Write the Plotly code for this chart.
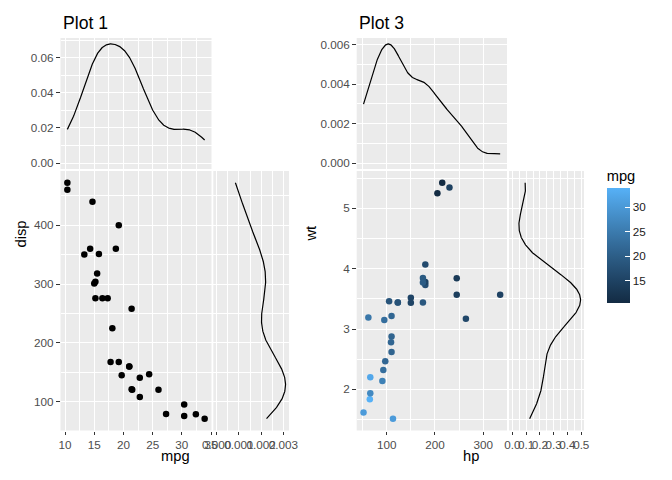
import numpy as np
import plotly.graph_objects as go

# mtcars data
mpg = [21.0, 21.0, 22.8, 21.4, 18.7, 18.1, 14.3, 24.4, 22.8, 19.2, 17.8, 16.4, 17.3, 15.2, 10.4, 10.4,
       14.7, 32.4, 30.4, 33.9, 21.5, 15.5, 15.2, 13.3, 19.2, 27.3, 26.0, 30.4, 15.8, 19.7, 15.0, 21.4]
disp = [160, 160, 108, 258, 360, 225, 360, 146.7, 140.8, 167.6, 167.6, 275.8, 275.8, 275.8, 472, 460,
        440, 78.7, 75.7, 71.1, 120.1, 318, 304, 350, 400, 79, 120.3, 95.1, 351, 145, 301, 121]
hp = [110, 110, 93, 110, 175, 105, 245, 62, 95, 123, 123, 180, 180, 180, 205, 215,
      230, 66, 52, 65, 97, 150, 150, 245, 175, 66, 91, 113, 264, 175, 335, 109]
wt = [2.620, 2.875, 2.320, 3.215, 3.440, 3.460, 3.570, 3.190, 3.150, 3.440, 3.440, 4.070, 3.730, 3.780,
      5.250, 5.424, 5.345, 2.200, 1.615, 1.835, 2.465, 3.520, 3.435, 3.840, 3.845, 1.935, 2.140, 1.513,
      3.170, 3.770, 3.570, 2.780]

titles = ["Plot 1", "Plot 3"]
mpg_ticks = [10, 15, 20, 25, 30, 35]
disp_ticks = [100, 200, 300, 400]
hp_ticks = [100, 200, 300]
wt_ticks = [2, 3, 4, 5]
dens1_top_ticks = [0, 0.02, 0.04, 0.06]
dens1_right_ticks = [0, 0.001, 0.002, 0.003]
dens3_top_ticks = [0, 0.002, 0.004, 0.006]
dens3_right_ticks = [0, 0.1, 0.2, 0.3, 0.4, 0.5]
cbar_ticks = [15, 20, 25, 30]


def kde(v, n=512):
    v = np.asarray(v, float)
    sd = v.std(ddof=1)
    q75, q25 = np.percentile(v, [75, 25])
    lo = min(sd, (q75 - q25) / 1.34)
    bw = 0.9 * lo * len(v) ** -0.2
    g = np.linspace(v.min(), v.max(), n)
    d = np.exp(-0.5 * ((g[:, None] - v[None, :]) / bw) ** 2).sum(1) / (len(v) * bw * np.sqrt(2 * np.pi))
    return g, d


def expand(lo, hi, f=0.05):
    r = hi - lo
    return [lo - f * r, hi + f * r]


# colour scale (ggplot default gradient, Lab interpolation)
def hex2rgb(h):
    return [int(h[i:i + 2], 16) / 255 for i in (1, 3, 5)]


M = np.array([[0.4124, 0.3576, 0.1805], [0.2126, 0.7152, 0.0722], [0.0193, 0.1192, 0.9505]])
WN = np.array([0.95047, 1.0, 1.08883])


def rgb2lab(c):
    c = np.array([x / 12.92 if x <= 0.04045 else ((x + 0.055) / 1.055) ** 2.4 for x in c])
    xyz = M @ c / WN
    f = np.where(xyz > 0.008856, np.cbrt(xyz), 7.787 * xyz + 16 / 116)
    return np.array([116 * f[1] - 16, 500 * (f[0] - f[1]), 200 * (f[1] - f[2])])


def lab2rgb(lab):
    fy = (lab[0] + 16) / 116
    fx = fy + lab[1] / 500
    fz = fy - lab[2] / 200
    f = np.array([fx, fy, fz])
    xyz = np.where(f ** 3 > 0.008856, f ** 3, (f - 16 / 116) / 7.787) * WN
    c = np.linalg.solve(M, xyz)
    c = np.array([12.92 * x if x <= 0.0031308 else 1.055 * x ** (1 / 2.4) - 0.055 for x in c])
    c = np.clip(c, 0, 1)
    return "rgb(%d,%d,%d)" % tuple(np.round(c * 255))


L0, L1 = rgb2lab(hex2rgb("#132B43")), rgb2lab(hex2rgb("#56B1F7"))
cscale = [[t, lab2rgb(L0 + (L1 - L0) * t)] for t in np.linspace(0, 1, 11)]

W, H = 672, 480


def px(x):
    return x / W


def py(y):
    return 1 - y / H


TICKFONT = dict(family="Liberation Sans, Arial", size=11.7, color="#4D4D4D")
GRID = dict(showgrid=True, gridcolor="white", gridwidth=1.3, zeroline=False, showline=False, automargin=False)


def minor_of(ticks):
    d = ticks[1] - ticks[0]
    return dict(tickmode="linear", tick0=ticks[0] - d / 2, dtick=d, showgrid=True, gridcolor="white",
                gridwidth=0.6, ticks="")


def axis(domain, rng, ticks, fmt=None, labels=True, anchor=None):
    a = dict(domain=domain, range=rng, tickmode="array", tickvals=ticks, **GRID,
             minor=minor_of(ticks), tickfont=TICKFONT, tickangle=0)
    if fmt:
        a["tickformat"] = fmt
    if labels:
        a.update(ticks="outside", ticklen=3.7, tickwidth=1.07, tickcolor="#333333", showticklabels=True)
    else:
        a.update(ticks="", showticklabels=False)
    if anchor:
        a["anchor"] = anchor
    return a


fig = go.Figure()

# ---- Plot 1 ----
mx, md = kde(mpg)
dx, dd = kde(disp)
fig.add_trace(go.Scatter(x=mpg, y=disp, mode="markers", marker=dict(color="black", size=6.5),
                         xaxis="x", yaxis="y", showlegend=False))
fig.add_trace(go.Scatter(x=mx, y=md, mode="lines", line=dict(color="black", width=1.2),
                         xaxis="x2", yaxis="y2", showlegend=False))
fig.add_trace(go.Scatter(x=dd, y=dx, mode="lines", line=dict(color="black", width=1.2),
                         xaxis="x3", yaxis="y3", showlegend=False))

# ---- Plot 3 ----
hx, hd = kde(hp)
wx, wd = kde(wt)
fig.add_trace(go.Scatter(x=hp, y=wt, mode="markers",
                         marker=dict(color=mpg, colorscale=cscale, cmin=min(mpg), cmax=max(mpg), size=6.5,
                                     colorbar=dict(xref="container", yref="container",
                                                   x=px(606.7), xanchor="left", xpad=0, y=py(303), yanchor="bottom",
                                                   len=136, lenmode="pixels", thickness=22.6, thicknessmode="pixels",
                                                   ypad=0, outlinewidth=0, tickmode="array", tickvals=cbar_ticks,
                                                   ticks="inside", ticklen=4.5, tickcolor="white", tickwidth=1,
                                                   tickfont=dict(family="Liberation Sans, Arial", size=11.7,
                                                                 color="#1A1A1A"),
                                                   title=dict(text="mpg", side="top",
                                                              font=dict(family="Liberation Sans, Arial", size=14.7,
                                                                        color="black")))),
                         xaxis="x4", yaxis="y4", showlegend=False))
fig.add_trace(go.Scatter(x=hx, y=hd, mode="lines", line=dict(color="black", width=1.2),
                         xaxis="x5", yaxis="y5", showlegend=False))
fig.add_trace(go.Scatter(x=wd, y=wx, mode="lines", line=dict(color="black", width=1.2),
                         xaxis="x6", yaxis="y6", showlegend=False))

main_y = [py(430.5), py(171)]
top_y = [py(169), py(38)]

r_mpg = expand(min(mpg), max(mpg))
r_disp = expand(min(disp), max(disp))
r_hp = expand(min(hp), max(hp))
r_wt = expand(min(wt), max(wt))
r_md = expand(0, md.max())
r_dd = expand(0, dd.max())
r_hd = expand(0, hd.max())
r_wd = expand(0, wd.max())

fig.update_layout(
    width=W, height=H, margin=dict(l=0, r=0, t=0, b=0, autoexpand=False),
    paper_bgcolor="white", plot_bgcolor="#EBEBEB",
    font=dict(family="Liberation Sans, Arial"),
    xaxis=axis([px(60.5), px(211.5)], r_mpg, mpg_ticks, anchor="y"),
    yaxis=axis(main_y, r_disp, disp_ticks, anchor="x"),
    xaxis2=axis([px(60.5), px(211.5)], r_mpg, mpg_ticks, labels=False, anchor="y2"),
    yaxis2=axis(top_y, r_md, dens1_top_ticks, fmt=".2f", anchor="x2"),
    xaxis3=axis([px(213.3), px(289)], r_dd, dens1_right_ticks, fmt=".3f", anchor="y3"),
    yaxis3=axis(main_y, r_disp, disp_ticks, labels=False, anchor="x3"),
    xaxis4=axis([px(356.7), px(507)], r_hp, hp_ticks, anchor="y4"),
    yaxis4=axis(main_y, r_wt, wt_ticks, anchor="x4"),
    xaxis5=axis([px(356.7), px(507)], r_hp, hp_ticks, labels=False, anchor="y5"),
    yaxis5=axis(top_y, r_hd, dens3_top_ticks, fmt=".3f", anchor="x5"),
    xaxis6=axis([px(509), px(584)], r_wd, dens3_right_ticks, fmt=".1f", anchor="y6"),
    yaxis6=axis(main_y, r_wt, wt_ticks, labels=False, anchor="x6"),
)

ann_font = dict(family="Liberation Sans, Arial", size=14.7, color="black")
title_font = dict(family="Liberation Sans, Arial", size=17.6, color="black")
fig.add_annotation(text=titles[0], x=px(61), y=py(22.5), xref="paper", yref="paper", xanchor="left",
                   yanchor="middle", showarrow=False, font=title_font)
fig.add_annotation(text=titles[1], x=px(357), y=py(22.5), xref="paper", yref="paper", xanchor="left",
                   yanchor="middle", showarrow=False, font=title_font)
fig.add_annotation(text="mpg", x=px(175), y=py(456), xref="paper", yref="paper", xanchor="center",
                   yanchor="middle", showarrow=False, font=ann_font)
fig.add_annotation(text="hp", x=px(470.5), y=py(456), xref="paper", yref="paper", xanchor="center",
                   yanchor="middle", showarrow=False, font=ann_font)
fig.add_annotation(text="disp", x=px(20.5), y=py(234), xref="paper", yref="paper", xanchor="center",
                   yanchor="middle", showarrow=False, font=ann_font, textangle=-90)
fig.add_annotation(text="wt", x=px(310.5), y=py(234), xref="paper", yref="paper", xanchor="center",
                   yanchor="middle", showarrow=False, font=ann_font, textangle=-90)

fig.write_html("out.html")
